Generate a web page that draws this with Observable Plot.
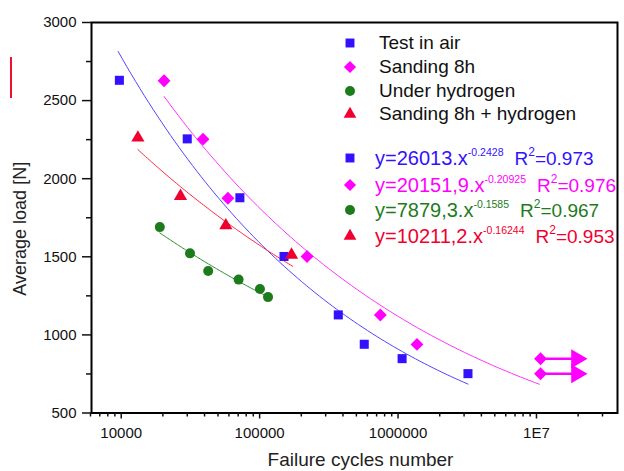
<!DOCTYPE html>
<html><head><meta charset="utf-8">
<script src="https://cdn.jsdelivr.net/npm/d3@7"></script>
<script src="https://cdn.jsdelivr.net/npm/@observablehq/plot@0.6"></script>
<style>
body{margin:0;background:#fff;font-family:"Liberation Sans",Arial,sans-serif;}
#wrap{position:relative;width:624px;height:471px;overflow:hidden;}
#wrap svg.plot{position:absolute;left:0;top:0;}
.row{position:absolute;font-size:19px;line-height:22px;white-space:nowrap;}
.row .sup{font-size:10.5px;position:relative;top:-9px;}
.mk{position:absolute;}
#artifact{position:absolute;left:10px;top:57px;width:1.5px;height:41px;background:#ee1133;z-index:5;}
</style></head><body><div id="wrap"><div id="artifact"></div></div>
<script>
// ---- data ----
const seriesNames = ["Test in air", "Sanding 8h", "Under hydrogen", "Sanding 8h + hydrogen"];
const seriesColors = ["#3311ff", "#ff00ff", "#1c7c1c", "#f0002e"];
const lineColors = ["#5544ff", "#ff33ff", "#2a8a2a", "#ff2244"];
const seriesSymbols = ["square", "diamond2", "circle", "triangle"];

const airCycles = [9700, 30000, 72000, 150000, 370000, 570000, 1070000, 3200000];
const airLoad = [2630, 2255, 1878, 1502, 1128, 940, 848, 752];

const sandCycles = [20400, 39000, 59000, 220000, 745000, 1370000, 10700000, 10700000];
const sandLoad = [2627, 2253, 1875, 1502, 1127, 939, 847, 751];

const h2Cycles = [19000, 31400, 42500, 70500, 100500, 115000];
const h2Load = [1690, 1522, 1409, 1354, 1294, 1242];

const sandH2Cycles = [13200, 26800, 57000, 170000];
const sandH2Load = [2262, 1888, 1700, 1512];

// run-out arrows (Sanding 8h)
const runoutStart = [10700000, 10700000];
const runoutEnd = [19500000, 19500000];
const runoutLoad = [847, 751];

// power-law fits y = a * x^b
const fitA = [26013, 20151.9, 7879.3, 10211.2];
const fitB = [-0.2428, -0.20925, -0.1585, -0.16244];
const fitMin = [9500, 20400, 19000, 13200];
const fitMax = [3200000, 10500000, 115000, 173000];
const fitALabels = ["26013", "20151,9", "7879,3", "10211,2"];
const fitBLabels = ["-0.2428", "-0.20925", "-0.1585", "-0.16244"];
const r2Labels = ["0.973", "0.976", "0.967", "0.953"];

const xMajor = [1e4, 1e5, 1e6, 1e7];
const xLabels = ["10000", "100000", "1000000", "1E7"];
const xMinor = [6000, 7000, 8000, 9000, 2e4, 3e4, 4e4, 5e4, 6e4, 7e4, 8e4, 9e4,
  2e5, 3e5, 4e5, 5e5, 6e5, 7e5, 8e5, 9e5, 2e6, 3e6, 4e6, 5e6, 6e6, 7e6, 8e6, 9e6, 2e7, 3e7];
const yMajor = [500, 1000, 1500, 2000, 2500, 3000];
const yMinor = [750, 1250, 1750, 2250, 2750];

// ---- build tables ----
const toRows = (xs, ys) => xs.map((x, i) => ({x, y: ys[i]}));
const pts = [toRows(airCycles, airLoad), toRows(sandCycles, sandLoad), toRows(h2Cycles, h2Load), toRows(sandH2Cycles, sandH2Load)];
const fits = seriesNames.map((s, i) => {
  const l0 = Math.log10(fitMin[i]), l1 = Math.log10(fitMax[i]), n = 80, out = [];
  for (let k = 0; k <= n; k++) { const x = 10 ** (l0 + (l1 - l0) * k / n); out.push({x, y: fitA[i] * x ** fitB[i]}); }
  return out;
});
const arrows = runoutLoad.map((y, i) => ({x1: runoutStart[i], x2: runoutEnd[i], y}));
const dotR = [5.1, 5.8, 5, 4.9];

const marks = [];
fits.forEach((f, i) => marks.push(Plot.line(f, {x: "x", y: "y", stroke: lineColors[i], strokeWidth: 1})));
marks.push(Plot.link(arrows, {x1: "x1", x2: "x2", y1: "y", y2: "y", stroke: seriesColors[1], strokeWidth: 2.5}));
marks.push(Plot.dot(arrows, {x: "x2", y: "y", symbol: "triangle", rotate: 90, r: 7, fill: seriesColors[1]}));
pts.forEach((p, i) => marks.push(Plot.dot(p, {x: "x", y: "y", symbol: seriesSymbols[i], r: dotR[i], fill: seriesColors[i]})));
marks.push(
  Plot.frame({stroke: "black", strokeWidth: 2}),
  Plot.axisX({ticks: xMajor, tickFormat: d => xLabels[xMajor.indexOf(d)], tickSize: 6, tickPadding: 8, fontSize: 15, label: null, strokeWidth: 1.5}),
  Plot.axisX({ticks: xMinor, tickFormat: () => "", tickSize: 4, label: null, strokeWidth: 1.5}),
  Plot.axisY({ticks: yMajor, tickFormat: d => String(d), tickSize: 9, tickPadding: 6, fontSize: 15, label: null, strokeWidth: 1.5}),
  Plot.axisY({ticks: yMinor, tickFormat: () => "", tickSize: 5, label: null, strokeWidth: 1.5}),
  Plot.text(["Average load [N]"], {frameAnchor: "left", textAnchor: "middle", rotate: -90, dx: -71, dy: 11, fontSize: 18, fill: "#222"}),
  Plot.text(["Failure cycles number"], {frameAnchor: "bottom", lineAnchor: "bottom", dx: 6, dy: 53, fontSize: 19, fill: "#222"})
);

const chart = Plot.plot({
  width: 624, height: 471,
  marginLeft: 91, marginRight: 7, marginTop: 22, marginBottom: 58.5,
  style: {fontFamily: '"Liberation Sans", Arial, sans-serif', background: "white", color: "#111", overflow: "visible"},
  x: {type: "log", domain: [6100, 3.85e7]},
  y: {domain: [500, 3000]},
  marks
});
chart.classList.add("plot");
const wrap = document.getElementById("wrap");
wrap.appendChild(chart);

// ---- legend overlay ----
function marker(i, cx, cy, size) {
  const s = document.createElementNS("http://www.w3.org/2000/svg", "svg");
  s.setAttribute("width", 20); s.setAttribute("height", 20);
  s.setAttribute("class", "mk");
  s.style.left = (cx - 10) + "px"; s.style.top = (cy - 10) + "px";
  const types = [d3.symbolSquare, d3.symbolDiamond2, d3.symbolCircle, d3.symbolTriangle];
  const p = document.createElementNS("http://www.w3.org/2000/svg", "path");
  p.setAttribute("d", d3.symbol(types[i], size)());
  p.setAttribute("transform", "translate(10,10)");
  p.setAttribute("fill", seriesColors[i]);
  s.appendChild(p);
  wrap.appendChild(s);
}
const legTops = [32.4, 56.4, 79.7, 103.1];
const eqTops = [147.4, 174.1, 199.1, 225.1];
const mkSize = [80, 95, 78, 70];
seriesNames.forEach((name, i) => {
  const d = document.createElement("div");
  d.className = "row"; d.style.left = "379px"; d.style.top = legTops[i] + "px"; d.style.color = "#111";
  d.textContent = name; wrap.appendChild(d);
  marker(i, 350, legTops[i] + 10.8, mkSize[i]);
  const e = document.createElement("div");
  e.className = "row"; e.style.left = "375px"; e.style.top = eqTops[i] + "px"; e.style.color = seriesColors[i];
  e.innerHTML = `<span style="font-size:20px">y=${fitALabels[i]}.x</span><span class="sup">${fitBLabels[i]}</span><span style="margin-left:11px">R</span><span class="sup" style="font-size:12px">2</span>=${r2Labels[i]}`;
  wrap.appendChild(e);
  marker(i, 350, eqTops[i] + 10.8, mkSize[i]);
});
</script>
</body></html>
